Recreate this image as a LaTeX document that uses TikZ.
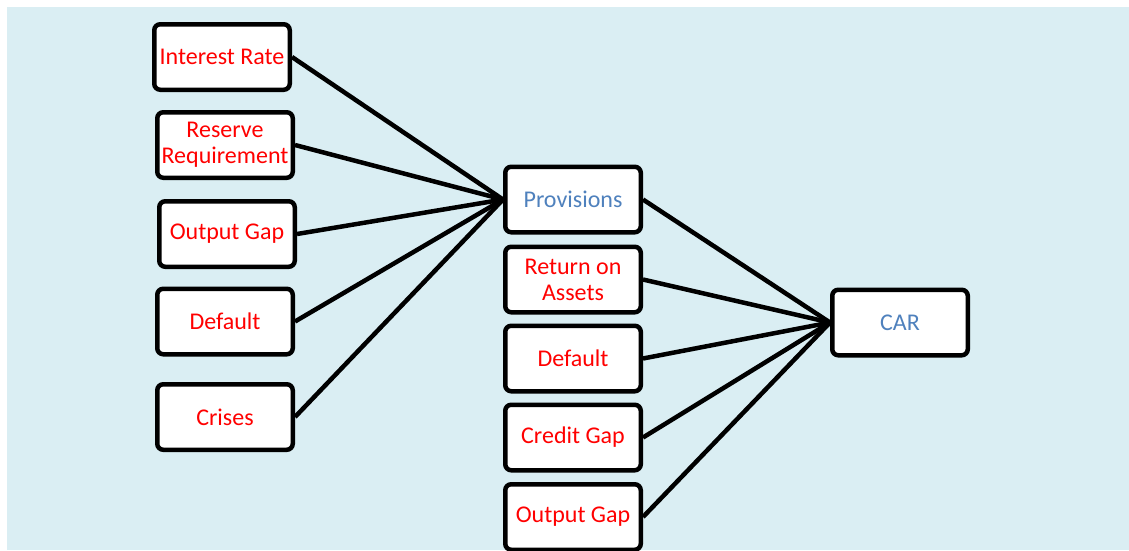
\documentclass[tikz,border=0pt]{standalone}
\usepackage{fontspec}
\setmainfont{Carlito}
\usepackage{xcolor}
\usepackage{tikz}
\usetikzlibrary{calc}
\definecolor{bgc}{HTML}{DAEEF3}
\definecolor{varc}{HTML}{FF0000}
\definecolor{outc}{HTML}{4F81BD}
\tikzset{
  ln/.style={line width=4.5pt,black},
  box/.style={draw=black,line width=4.5pt,rounded corners=6pt,fill=white,align=center,
    minimum width=135.5pt,minimum height=65.5pt,inner sep=2pt,
    font=\fontsize{24}{26}\selectfont},
  var/.style={box,text=varc},
  res/.style={box,text=outc}
}

\begin{document}
\begin{tikzpicture}[x=1pt,y=-1pt]
\useasboundingbox (0,0) rectangle (1129,550);
\fill[bgc] (7,7) rectangle (1129,550);
\begin{scope}
\clip (0,0) rectangle (1129,550);
% left column
\node[var] (ir) at (222,57) {Interest Rate};
\node[var] (rr) at (225,145) {Reserve\\Requirement};
\node[var] (og) at (227,234) {Output Gap};
\node[var] (df) at (225,321.5) {Default};
\node[var] (cr) at (225,417) {Crises};
% middle column
\node[res] (prov) at (573,199.5) {Provisions};
\node[var] (roa) at (573,279.5) {Return on\\Assets};
\node[var] (dfb) at (573,358.5) {Default};
\node[var] (cg) at (573,437.5) {Credit Gap};
\node[var] (ogb) at (573,517) {Output Gap};
% right
\node[res] (car) at (900,322.5) {CAR};
\foreach \n in {ir,rr,og,df,cr}
  \draw[ln] (\n.east) -- (prov.west);
\foreach \n in {prov,roa,dfb,cg,ogb}
  \draw[ln] (\n.east) -- (car.west);
\end{scope}
\end{tikzpicture}
\end{document}
